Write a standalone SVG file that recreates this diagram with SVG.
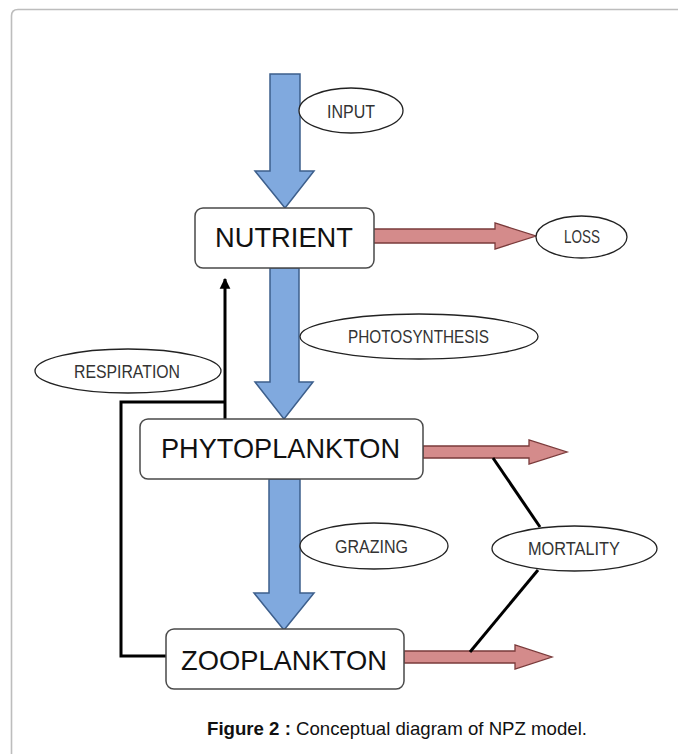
<svg xmlns="http://www.w3.org/2000/svg" width="678" height="754" viewBox="0 0 678 754">
<defs>
<style>
.frame{fill:none;stroke:#bdbdbd;stroke-width:1.6}
.box{fill:#fff;stroke:#4a4a4a;stroke-width:1.5}
.big{font-family:"Liberation Sans",Arial,sans-serif;font-size:28px;fill:#111}
.ell{fill:#fff;stroke:#222;stroke-width:1.3}
.lbl{font-family:"Liberation Sans",Arial,sans-serif;font-size:18.5px;fill:#333}
.blue{fill:#80a9de;stroke:#3d5f8c;stroke-width:1.5;stroke-linejoin:miter}
.pink{fill:#d48b8b;stroke:#7a3b3b;stroke-width:1.3}
.blk{fill:none;stroke:#000;stroke-width:3}
.cap{font-family:"Liberation Sans",Arial,sans-serif;font-size:19px;fill:#111}
</style>
<marker id="ah" viewBox="0 0 10 10" refX="9" refY="5" markerWidth="3.6" markerHeight="3.8" orient="auto" markerUnits="strokeWidth">
<path d="M0,0 L10,5 L0,10 z" fill="#000"/>
</marker>
</defs>
<path class="frame" d="M11.5,754 V16 Q11.5,9.5 18,9.5 H678"/>
<g id="connectors">
<polygon class="blue" points="270,74 300,74 300,171 314,171 285,208 255,171 270,171"/>
<polygon class="blue" points="270,268 299,268 299,382 313,382 284,419 255,382 270,382"/>
<polygon class="blue" points="269,479 300,479 300,593 314,593 284,630 254,593 269,593"/>
<polygon class="pink" points="373,229 495,229 495,223 536,236 495,249 495,243 373,243"/>
<polygon class="pink" points="423,446 529,446 529,440 567,452 529,464 529,458 423,458"/>
<polygon class="pink" points="404,651 515,651 515,645 552,657 515,669 515,663 404,663"/>
<path class="blk" d="M166,656 H121 V402 H225"/>
<path class="blk" d="M225,419 V279" marker-end="url(#ah)"/>
<path class="blk" stroke-width="2.6" d="M493,458 L540,527"/>
<path class="blk" stroke-width="2.6" d="M538,570 L470,652"/>
</g>
<g id="nutrient">
<rect class="box" x="195" y="208" width="179" height="60" rx="8"/>
<text class="big" x="215" y="247" textLength="138" lengthAdjust="spacingAndGlyphs">NUTRIENT</text>
</g>
<g id="phytoplankton">
<rect class="box" x="140" y="419" width="283" height="60" rx="8"/>
<text class="big" x="161" y="458" textLength="239" lengthAdjust="spacingAndGlyphs">PHYTOPLANKTON</text>
</g>
<g id="zooplankton">
<rect class="box" x="166" y="629" width="238" height="60" rx="8"/>
<text class="big" x="181" y="670" textLength="206" lengthAdjust="spacingAndGlyphs">ZOOPLANKTON</text>
</g>
<g id="input">
<ellipse class="ell" cx="351" cy="110.5" rx="52" ry="22.5"/>
<text class="lbl" x="327" y="118" textLength="48" lengthAdjust="spacingAndGlyphs">INPUT</text>
</g>
<g id="loss">
<ellipse class="ell" cx="581.5" cy="237" rx="45.5" ry="21"/>
<text class="lbl" x="564" y="243" textLength="36" lengthAdjust="spacingAndGlyphs">LOSS</text>
</g>
<g id="photosynthesis">
<ellipse class="ell" cx="419" cy="336.5" rx="119" ry="22.5"/>
<text class="lbl" x="348" y="343" textLength="141" lengthAdjust="spacingAndGlyphs">PHOTOSYNTHESIS</text>
</g>
<g id="respiration">
<ellipse class="ell" cx="128" cy="371" rx="93" ry="22"/>
<text class="lbl" x="74" y="378" textLength="106" lengthAdjust="spacingAndGlyphs">RESPIRATION</text>
</g>
<g id="grazing">
<ellipse class="ell" cx="374" cy="546" rx="74" ry="23"/>
<text class="lbl" x="335" y="553" textLength="73" lengthAdjust="spacingAndGlyphs">GRAZING</text>
</g>
<g id="mortality">
<ellipse class="ell" cx="574.5" cy="548.5" rx="82.5" ry="22.5"/>
<text class="lbl" x="528" y="555" textLength="92" lengthAdjust="spacingAndGlyphs">MORTALITY</text>
</g>
<text class="cap" x="207" y="735" textLength="380" lengthAdjust="spacingAndGlyphs"><tspan font-weight="bold">Figure  2 :</tspan> Conceptual diagram of NPZ model.</text>
</svg>
